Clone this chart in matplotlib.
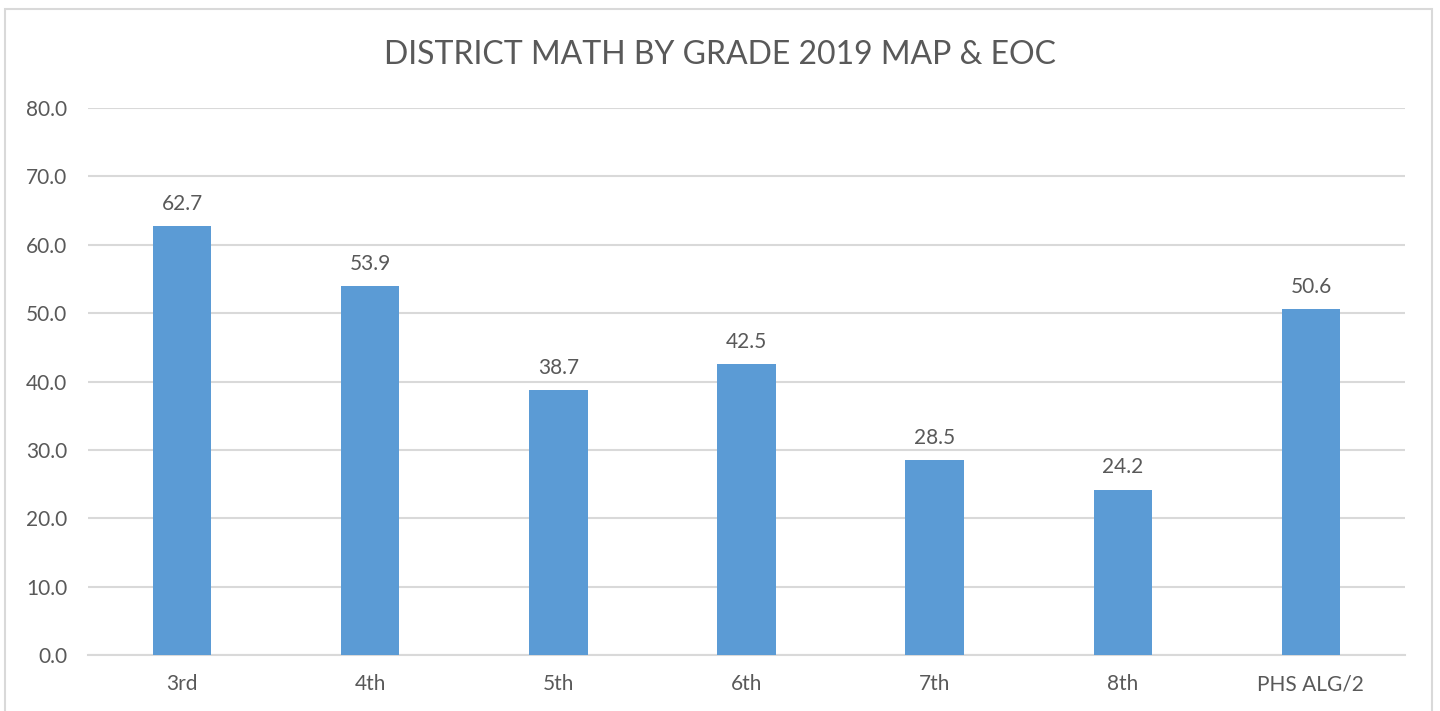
import matplotlib

matplotlib.use("Agg")
import matplotlib.pyplot as plt
from matplotlib.patches import Rectangle

GRADOS = ["3rd", "4th", "5th", "6th", "7th", "8th", "PHS ALG/2"]
VALORES = [62.7, 53.9, 38.7, 42.5, 28.5, 24.2, 50.6]
TICKS_Y = [0, 10, 20, 30, 40, 50, 60, 70, 80]

COLOR_BARRA = "#5B9BD5"
COLOR_TEXTO = "#595959"
COLOR_GRILLA = "#D9D9D9"

plt.rcParams["font.family"] = ["Lato", "DejaVu Sans"]

fig = plt.figure(figsize=(14.4, 7.11), dpi=100)
ax = fig.add_axes([88 / 1440, 56 / 711, 1317 / 1440, 547 / 711])

# marco gris claro del gráfico (como el de Excel)
fig.patches.append(Rectangle((5 / 1440, -0.05), 1427 / 1440, 1.05 - 9 / 711,
                             transform=fig.transFigure, fill=False,
                             edgecolor="#D9D9D9", linewidth=1.5))

x = range(len(GRADOS))
ax.bar(x, VALORES, width=0.31, color=COLOR_BARRA, zorder=3)
for xi, v in zip(x, VALORES):
    ax.annotate(f"{v:.1f}", xy=(xi, v), xytext=(0, 9), textcoords="offset points",
                ha="center", va="bottom", fontsize=15, color=COLOR_TEXTO)

ax.set_xlim(-0.5, len(GRADOS) - 0.5)
ax.set_ylim(0, 80)
ax.set_yticks(TICKS_Y)
ax.set_yticklabels([f"{t:.1f}" for t in TICKS_Y])
ax.set_xticks(list(x))
ax.set_xticklabels(GRADOS)
ax.tick_params(axis="both", length=0, labelsize=15, labelcolor=COLOR_TEXTO)
ax.tick_params(axis="y", pad=15)
ax.tick_params(axis="x", pad=14)
ax.grid(axis="y", color=COLOR_GRILLA, linewidth=1.5, zorder=0)
for lado in ["top", "right", "left"]:
    ax.spines[lado].set_visible(False)
ax.spines["bottom"].set_color(COLOR_GRILLA)
ax.spines["bottom"].set_linewidth(1.5)

fig.text(720 / 1440, 1 - 55 / 711, "DISTRICT MATH BY GRADE 2019 MAP & EOC",
         ha="center", va="center", fontsize=23, color=COLOR_TEXTO)

fig.savefig("out.png", dpi=100)
